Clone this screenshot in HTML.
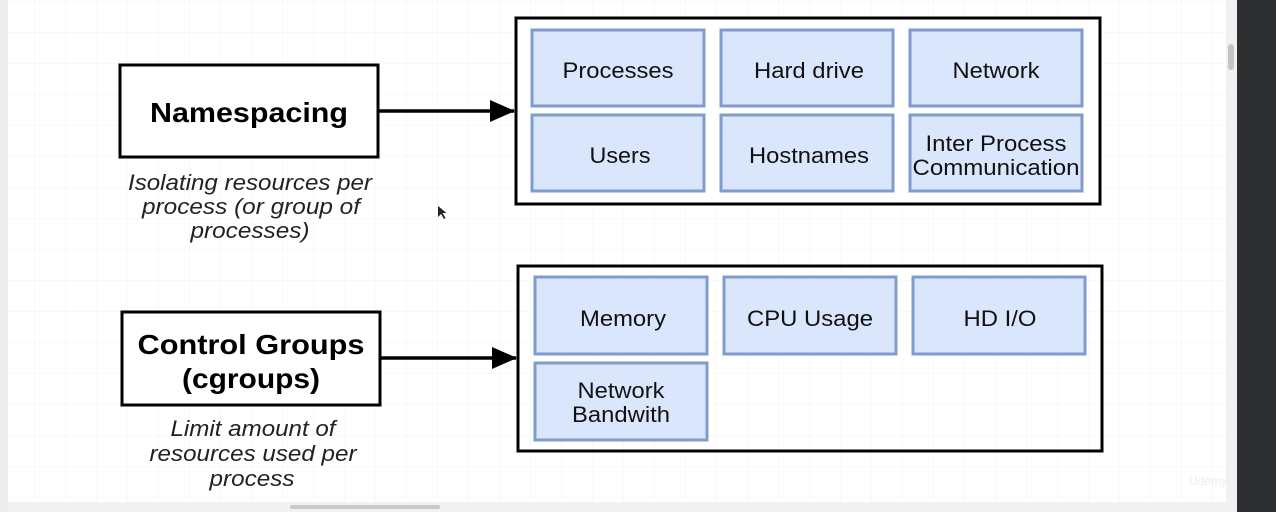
<!DOCTYPE html>
<html><head><style>
html,body{margin:0;padding:0;width:1276px;height:512px;overflow:hidden;background:#fff;}
svg{display:block}
text{font-family:"Liberation Sans",Arial,sans-serif;}
</style></head><body>
<svg width="1276" height="512" viewBox="0 0 1276 512" xmlns="http://www.w3.org/2000/svg">
<defs>
<pattern id="g" width="31" height="31" patternUnits="userSpaceOnUse" x="4" y="2">
<path d="M31 0V31M0 31H31" stroke="#f3f3f3" stroke-width="1" fill="none"/>
</pattern>
</defs>
<rect x="0" y="0" width="1276" height="512" fill="#fff"/>
<rect x="8" y="0" width="1218" height="502" fill="url(#g)"/>
<rect x="0" y="0" width="8" height="512" fill="#ececec"/>
<rect x="1226" y="0" width="11" height="512" fill="#f1f1f3"/>
<rect x="1228" y="44" width="6" height="26" rx="3" fill="#c4c4c4"/>
<rect x="1237" y="0" width="39" height="512" fill="#2d2e30"/>
<rect x="8" y="502" width="1218" height="10" fill="#f1f1f3"/>
<rect x="290" y="505" width="150" height="4" rx="2" fill="#c9c9c9"/>

<rect x="120" y="65" width="258" height="92" fill="#fff" stroke="#000" stroke-width="3"/>
<text x="249" y="122" text-anchor="middle" font-size="28" font-weight="bold" textLength="198" lengthAdjust="spacingAndGlyphs">Namespacing</text>
<line x1="379" y1="111" x2="514" y2="111" stroke="#000" stroke-width="3.5"/>
<path d="M490 100 L515 111 L490 122 Z" fill="#000"/>
<g font-size="22" font-style="italic" text-anchor="middle" fill="#222" lengthAdjust="spacingAndGlyphs">
<text x="250" y="190" textLength="244" lengthAdjust="spacingAndGlyphs">Isolating resources per</text>
<text x="251" y="214" textLength="218" lengthAdjust="spacingAndGlyphs">process (or group of</text>
<text x="250" y="238" textLength="119" lengthAdjust="spacingAndGlyphs">processes)</text>
</g>

<rect x="516" y="18" width="584" height="186" fill="#fff" stroke="#000" stroke-width="3"/>
<g fill="#dae6fb" stroke="#7f9ccc" stroke-width="3">
<rect x="532" y="30" width="172" height="76"/>
<rect x="721" y="30" width="172" height="76"/>
<rect x="910" y="30" width="172" height="76"/>
<rect x="532" y="115" width="172" height="76"/>
<rect x="721" y="115" width="172" height="76"/>
<rect x="910" y="115" width="172" height="76"/>
<rect x="535" y="277" width="172" height="77"/>
<rect x="724" y="277" width="172" height="77"/>
<rect x="913" y="277" width="172" height="77"/>
<rect x="535" y="363" width="172" height="77"/>
</g>
<g font-size="22" text-anchor="middle" fill="#111">
<text x="618" y="78" textLength="111" lengthAdjust="spacingAndGlyphs">Processes</text>
<text x="809" y="78" textLength="110" lengthAdjust="spacingAndGlyphs">Hard drive</text>
<text x="996" y="78" textLength="87" lengthAdjust="spacingAndGlyphs">Network</text>
<text x="620" y="163" textLength="61" lengthAdjust="spacingAndGlyphs">Users</text>
<text x="809" y="163" textLength="120" lengthAdjust="spacingAndGlyphs">Hostnames</text>
<text x="996" y="151" textLength="141" lengthAdjust="spacingAndGlyphs">Inter Process</text>
<text x="996" y="175" textLength="167" lengthAdjust="spacingAndGlyphs">Communication</text>
<text x="623" y="326" textLength="86" lengthAdjust="spacingAndGlyphs">Memory</text>
<text x="810" y="326" textLength="126" lengthAdjust="spacingAndGlyphs">CPU Usage</text>
<text x="1000" y="326" textLength="73" lengthAdjust="spacingAndGlyphs">HD I/O</text>
<text x="621" y="398" textLength="87" lengthAdjust="spacingAndGlyphs">Network</text>
<text x="621" y="422" textLength="98" lengthAdjust="spacingAndGlyphs">Bandwith</text>
</g>

<rect x="122" y="312" width="258" height="93" fill="#fff" stroke="#000" stroke-width="3"/>
<text x="251" y="354" text-anchor="middle" font-size="28" font-weight="bold" textLength="227" lengthAdjust="spacingAndGlyphs">Control Groups</text>
<text x="251" y="388" text-anchor="middle" font-size="28" font-weight="bold" textLength="138" lengthAdjust="spacingAndGlyphs">(cgroups)</text>
<line x1="381" y1="358" x2="516" y2="358" stroke="#000" stroke-width="3.5"/>
<path d="M492 347 L517 358 L492 369 Z" fill="#000"/>
<g font-size="22" font-style="italic" text-anchor="middle" fill="#222">
<text x="253" y="436" textLength="165" lengthAdjust="spacingAndGlyphs">Limit amount of</text>
<text x="253" y="461" textLength="207" lengthAdjust="spacingAndGlyphs">resources used per</text>
<text x="252" y="486" textLength="85" lengthAdjust="spacingAndGlyphs">process</text>
</g>
<rect x="518" y="266" width="584" height="185" fill="none" stroke="#000" stroke-width="3"/>
<path d="M438 206 l0 11 l3 -3 l3 5 l1.5 -1 l-3 -5 l4 0 Z" fill="#222"/>
<text x="1208" y="485" font-size="12" text-anchor="middle" fill="#ececec">Udemy</text>
</svg>
</body></html>
